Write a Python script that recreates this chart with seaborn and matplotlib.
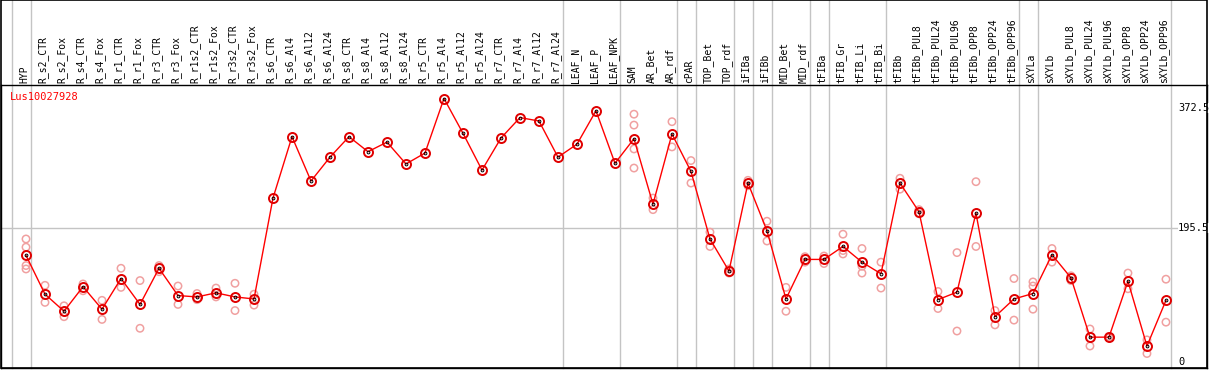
import matplotlib
matplotlib.use("Agg")
import numpy as np
import pandas as pd
import matplotlib.pyplot as plt
import matplotlib.transforms as mtransforms
from matplotlib.patches import Rectangle
import seaborn as sns

# column labels (one per sample)
labels = [
    "HYP", "R_s2_CTR", "R_s2_Fox", "R_s4_CTR", "R_s4_Fox", "R_r1_CTR", "R_r1_Fox",
    "R_r3_CTR", "R_r3_Fox", "R_r1s2_CTR", "R_r1s2_Fox", "R_r3s2_CTR", "R_r3s2_Fox",
    "R_s6_CTR", "R_s6_Al4", "R_s6_Al12", "R_s6_Al24", "R_s8_CTR", "R_s8_Al4",
    "R_s8_Al12", "R_s8_Al24", "R_r5_CTR", "R_r5_Al4", "R_r5_Al12", "R_r5_Al24",
    "R_r7_CTR", "R_r7_Al4", "R_r7_Al12", "R_r7_Al24", "LEAF_N", "LEAF_P", "LEAF_NPK",
    "SAM", "AR_Bet", "AR_rdf", "cPAR", "TOP_Bet", "TOP_rdf", "iFIBa", "iFIBb",
    "MID_Bet", "MID_rdf", "tFIBa", "tFIB_Gr", "tFIB_Li", "tFIB_Bi", "tFIBb",
    "tFIBb_PUL8", "tFIBb_PUL24", "tFIBb_PUL96", "tFIBb_OPP8", "tFIBb_OPP24",
    "tFIBb_OPP96", "sXYLa", "sXYLb", "sXYLb_PUL8", "sXYLb_PUL24", "sXYLb_PUL96",
    "sXYLb_OPP8", "sXYLb_OPP24", "sXYLb_OPP96",
]

# mean expression per sample
means = [156, 99, 74, 110, 77, 122, 84, 137, 97, 95, 101, 95, 92, 240, 330, 265,
         300, 330, 308, 322, 290, 306, 386, 335, 281, 328, 358, 353, 300, 319, 368,
         291, 327, 231, 334, 279, 180, 133, 262, 192, 92, 150, 150, 169, 146, 129,
         262, 220, 91, 102, 218, 66, 92, 100, 157, 123, 36, 36, 118, 23, 90]

# individual replicates per sample
replicates = [
    [180, 168, 141, 136], [112, 87], [82, 66], [114, 104], [90, 62], [137, 109],
    [119, 49], [141, 132], [111, 84], [100, 91], [108, 95], [115, 75], [99, 83],
    [], [], [], [], [], [], [], [], [], [], [], [], [], [], [], [], [], [], [],
    [363, 347, 312, 284], [240, 223], [352, 315], [295, 262], [190, 169],
    [136, 130], [266, 258], [206, 177], [109, 74], [154, 146], [155, 144],
    [187, 163, 158], [166, 140, 130], [146, 108], [269, 253], [223, 217],
    [103, 78], [160, 45], [264, 169], [75, 54], [122, 61], [117, 111, 77],
    [166, 146], [126, 119], [48, 23], [37, 35], [130, 107], [32, 12], [121, 58],
]

# last column of each sample group (separator drawn just after it)
group_ends = [-1, 0, 28, 31, 34, 35, 37, 38, 39, 41, 42, 45, 52, 53, 60]
y_ticks = [0, 195.5, 372.5]
y_tick_labels = ["0", "195.5", "372.5"]

W, H = 1209, 370
fig = plt.figure(figsize=(W / 100, H / 100), dpi=100)
ax = fig.add_axes([1 / W, (H - 368) / H, 1206 / W, 283 / H])

pos = np.arange(len(labels))
mean_df = pd.DataFrame({"pos": pos, "value": means})
rep_df = pd.DataFrame(
    [(i, v) for i, reps in enumerate(replicates) for v in reps],
    columns=["pos", "value"],
)

# grid lines
top_ext = 1 + 85 / 283
for g in group_ends:
    ax.axvline(g + 0.25, ymin=0, ymax=top_ext, color="#c4c4c4", lw=1,
               clip_on=False, zorder=0)
ax.axhline(195.5, color="#c4c4c4", lw=1, zorder=0)

# replicates
sns.scatterplot(data=rep_df, x="pos", y="value", ax=ax, s=28, marker="o",
                linewidth=1.1, zorder=3, legend=False)
coll = ax.collections[-1]
coll.set_facecolor("none")
coll.set_edgecolor("#f0a0a0")

# mean line
sns.lineplot(data=mean_df, x="pos", y="value", ax=ax, color="red", lw=1,
             marker="o", markersize=6.5, markerfacecolor="none",
             markeredgecolor="#e00000", markeredgewidth=1.4, zorder=4)
ax.plot(pos, means, ls="none", marker="o", markersize=2, markerfacecolor="none",
        markeredgecolor="black", markeredgewidth=0.7, zorder=5)

ax.set_xlim(-1.316, 62.16)
ax.set_ylim(-9.24, 405.8)
ax.set_xticks([])
ax.set_yticks([])
ax.set_xlabel("")
ax.set_ylabel("")
for sp in ax.spines.values():
    sp.set_color("black")
    sp.set_linewidth(1)

mono = "DejaVu Sans Mono"
trans = mtransforms.blended_transform_factory(ax.transData, ax.transAxes)
for i, lab in enumerate(labels):
    ax.text(i - 0.1, 1.008, lab, transform=trans, rotation=90, ha="center",
            va="bottom", fontsize=7, family=mono, clip_on=False)

for v, t in zip(y_ticks, y_tick_labels):
    ax.text(60.63, v, t, ha="left", va="center", fontsize=7.5, family=mono,
            color="black", zorder=6,
            bbox=dict(facecolor="white", edgecolor="none", pad=0))

ax.text(8.5 / 1206, 0.9576, "Lus10027928", transform=ax.transAxes, ha="left",
        va="center", fontsize=7.5, family=mono, color="red")

# outer frame
fig.add_artist(Rectangle((0.5 / W, (H - 368) / H), 1206.5 / W, 368 / H - 0.5 / H,
                         transform=fig.transFigure, fill=False, edgecolor="black",
                         lw=1.2))

fig.savefig("out.png", dpi=100)
